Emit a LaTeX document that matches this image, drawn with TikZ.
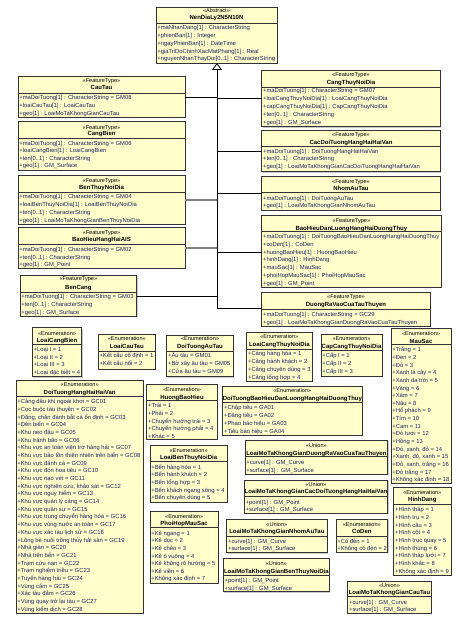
\documentclass[tikz,border=0pt]{standalone}
\usepackage{fontspec}
\setmainfont{Liberation Sans}
\usetikzlibrary{arrows.meta,shadows}
\definecolor{boxfill}{HTML}{FFFFCC}
\definecolor{boxline}{HTML}{333333}
\definecolor{attrc}{HTML}{1E1E5A}
\tikzset{
 umlbox/.style={draw=boxline, line width=0.9pt, fill=boxfill, inner sep=0pt, outer sep=0pt,
   drop shadow={shadow xshift=0.9pt, shadow yshift=-0.9pt, fill=black!40}},
 divline/.style={draw=boxline, line width=0.8pt},
 stereo/.style={inner sep=0pt, font=\fontsize{5.6}{6}\selectfont, anchor=mid},
 uname/.style={inner sep=0pt, font=\fontsize{6.0}{7}\selectfont\bfseries, anchor=mid},
 attr/.style={inner sep=0pt, font=\fontsize{5.85}{7}\selectfont, text=attrc, anchor=mid west, xshift=1.2pt},
 conn/.style={draw=black, line width=0.8pt},
 conng/.style={draw=black!50, line width=1.1pt},
}
\newcommand\ubox[6]{%
 \node[umlbox, anchor=north west, minimum width={(#4)-(#2)}, minimum height={(#5)-(#3)}] (#1) at (#2,#3) {};
 \draw[divline] (#1.west |- 0,#6) -- (#1.east |- 0,#6);}
\newcommand\uhead[5]{%
 \node[stereo] (#1-s) at (#1.north |- 0,#2) {«#3»};
 \node[uname] (#1-n) at (#1.north |- 0,#4) {#5};}
\newcommand\uattrs[4]{%
 \foreach \itm [count=\i from 0] in {#4} {\node[attr] (#1-a\i) at (#1.west |- 0,{#2+\i*#3}) {\itm};}}
\begin{document}
\begin{tikzpicture}[x=1pt,y=-1pt]
\fill[white] (0,0) rectangle (457,620);
\useasboundingbox (0,0) rectangle (457,620);
% ---------- abstract
\ubox{abs}{156}{7}{277}{63}{23.3}
\uhead{abs}{10.3}{Abstract}{17.3}{NenDiaLy2N5N10N}
\uattrs{abs}{26.7}{7.9}{+maNhanDang[1] : CharacterString,+phienBan[1] : Integer,+ngayPhienBan[1] : DateTime,+giaTriDoChinhXacMatPhang[1] : Real,+nguyenNhanThayDoi[0..1] : CharacterString}
% ---------- left feature types
\ubox{cautau}{18}{76}{185}{117.3}{93.5}
\uhead{cautau}{80}{FeatureType}{87.3}{CauTau}
\uattrs{cautau}{96.9}{7.8}{+maDoiTuong[1] : CharacterString = GM08,+loaiCauTau[1] : LoaiCauTau,+geo[1] : LoaiMoTaKhongGianCauTau}
\ubox{cangbien}{18}{121.7}{185}{170}{138.3}
\uhead{cangbien}{126.7}{FeatureType}{133.3}{CangBien}
\uattrs{cangbien}{142.7}{7.5}{+maDoiTuong[1] : CharacterString = GM06,+loaiCangBien[1] : LoaiCangBien,+ten[0..1] : CharacterString,+geo[1] : GM\_Surface}
\ubox{benthuy}{18}{175}{185}{224}{192.3}
\uhead{benthuy}{180}{FeatureType}{187.3}{BenThuyNoiDia}
\uattrs{benthuy}{196}{7.9}{+maDoiTuong[1] : CharacterString = GM04,+loaiBenThuyNoiDia[1] : LoaiBenThuyNoiDia,+ten[0..1] : CharacterString,+geo[1] : LoaiMoTaKhongGianBenThuyNoiDia}
\ubox{ais}{18}{227.3}{185}{268.3}{244.3}
\uhead{ais}{231.7}{FeatureType}{239}{BaoHieuHangHaiAIS}
\uattrs{ais}{249}{7.4}{+maDoiTuong[1] : CharacterString = GM02,+ten[0..1] : CharacterString,+geo[1] : GM\_Point}
\ubox{bencang}{20}{275}{136.7}{316}{292.7}
\uhead{bencang}{278.3}{FeatureType}{286.7}{BenCang}
\uattrs{bencang}{296}{7.9}{+maDoiTuong[1] : CharacterString = GM03,+ten[0..1] : CharacterString,+geo[1] : GM\_Surface}
% ---------- right feature types
\ubox{cangtnd}{261.7}{70}{440.3}{126.7}{87.3}
\uhead{cangtnd}{74}{FeatureType}{81.7}{CangThuyNoiDia}
\uattrs{cangtnd}{90}{7.9}{+maDoiTuong[1] : CharacterString = GM07,+loaiCangThuyNoiDia[1] : LoaiCangThuyNoiDia,+capCangThuyNoiDia[1] : CapCangThuyNoiDia,+ten[0..1] : CharacterString,+geo[1] : GM\_Surface}
\ubox{cacdt}{261.7}{130}{440.3}{171.7}{146.7}
\uhead{cacdt}{134}{FeatureType}{141.7}{CacDoiTuongHangHaiHaiVan}
\uattrs{cacdt}{150.7}{7.4}{+maDoiTuong[1] : DoiTuongHangHaiHaiVan,+ten[0..1] : CharacterString,+geo[1] : LoaiMoTaKhongGianCacDoiTuongHangHaiHaiVan}
\ubox{nhom}{261.7}{176.7}{440.3}{210}{192.7}
\uhead{nhom}{181}{FeatureType}{188.3}{NhomAuTau}
\uattrs{nhom}{197.7}{7.5}{+maDoiTuong[1] : DoiTuongAuTau,+geo[1] : LoaiMoTaKhongGianNhomAuTau}
\ubox{bhdl}{261.7}{215.7}{441}{287.3}{231.7}
\uhead{bhdl}{220}{FeatureType}{227.7}{BaoHieuDanLuongHangHaiDuongThuy}
\uattrs{bhdl}{236}{7.78}{+maDoiTuong[1] : DoiTuongBaoHieuDanLuongHangHaiDuongThuy,+coDen[1] : CoDen,+huongBaoHieu[1] : HuongBaoHieu,+hinhDang[1] : HinhDang,+mauSac[1] : MauSac,+phoiHopMauSac[1] : PhoiHopMauSac,+geo[1] : GM\_Point}
\ubox{drv}{261.7}{292.7}{430.3}{326}{309}
\uhead{drv}{296}{FeatureType}{304}{DuongRaVaoCuaTauThuyen}
\uattrs{drv}{314}{8}{+maDoiTuong[1] : CharacterString = GC29,+geo[1] : LoaiMoTaKhongGianDuongRaVaoCuaTauThuyen}
% ---------- generalization
\coordinate (trk) at (217,308);
\draw[conn, -{Triangle[open, length=7pt, width=10pt, fill=white]}] (trk) -- (abs.south -| trk);
\draw[conn] (cautau.east |- 0,97) -- (trk |- 0,97);
\draw[conng] (benthuy.east |- 0,200) -- (trk |- 0,200);
\draw[conng] (ais.east |- 0,248) -- (trk |- 0,248);
\draw[conn] (bencang.east |- 0,296) -- (trk |- 0,296);
\draw[conn] (trk |- 0,98.3) -- (cangtnd.west |- 0,98.3);
\draw[conn] (trk |- 0,151) -- (cacdt.west |- 0,151);
\draw[conn] (trk |- 0,193) -- (nhom.west |- 0,193);
\draw[conn] (trk |- 0,252) -- (bhdl.west |- 0,252);
\draw[conn] (trk) -- (drv.west |- trk);
% ---------- enumerations
\ubox{lcb}{32.3}{327.7}{81.7}{376.7}{344.3}
\uhead{lcb}{332.7}{Enumeration}{340}{LoaiCangBien}
\uattrs{lcb}{349.3}{7.5}{+Loại I = 1,+Loại II = 2,+Loại III = 3,+Loại đặc biệt = 4}
\ubox{lct}{98.3}{334}{155.3}{369}{351}
\uhead{lct}{338.3}{Enumeration}{346}{LoaiCauTau}
\uattrs{lct}{355}{7.7}{+Kết cấu cố định = 1,+Kết cấu nổi = 2}
\ubox{dthh}{16}{380}{143.3}{613.3}{396.7}
\uhead{dthh}{384.3}{Enumeration}{392}{DoiTuongHangHaiHaiVan}
\uattrs{dthh}{401}{7.69}{+Cảng dầu khí ngoài khơi = GC01,+Cọc buộc tàu thuyền = GC02,{+Đăng, chắn đánh bắt cá ổn định = GC03},+Đèn biển = GC04,+Khu neo đậu = GC05,+Khu tránh bão = GC06,+Khu vực an toàn viện trợ hàng hải = GC07,+Khu vực bảo tồn thiên nhiên trên biển = GC08,+Khu vực đánh cá = GC09,+Khu vực đón hoa tiêu = GC10,+Khu vực nạo vét = GC11,{+Khu vực nghiên cứu, khảo sát = GC12},+Khu vực nguy hiểm = GC13,+Khu vực quản lý cảng = GC14,+Khu vực quân sự = GC15,+Khu vực trung chuyển hàng hóa = GC16,+Khu vực vùng nước an toàn = GC17,+Khu vực xác tàu lịch sử = GC18,+Lồng bè nuôi trồng thủy hải sản = GC19,+Nhà giàn = GC20,+Nhà trên bến = GC21,+Trạm cứu nạn = GC22,+Trạm nghiệm triều = GC23,+Tuyến hàng hải = GC24,+Vùng cấm  = GC25,+Xác tàu đắm = GC26,+Vùng quay trở lại tàu = GC27,+Vùng kiểm dịch = GC28}
\ubox{dtat}{166.7}{335}{233.3}{376.7}{351}
\uhead{dtat}{338.3}{Enumeration}{346}{DoiTuongAuTau}
\uattrs{dtat}{355}{8}{+Âu tàu = GM01,+Bờ xây âu tàu = GM05,+Cửa âu tàu = GM09}
\ubox{lctnd}{246.7}{332.7}{312}{381}{349}
\uhead{lctnd}{336}{Enumeration}{344}{LoaiCangThuyNoiDia}
\uattrs{lctnd}{353.3}{7.8}{+Cảng hàng hóa = 1,+Cảng hành khách = 2,+Cảng chuyên dùng = 3,+Cảng tổng hợp = 4}
\ubox{cctnd}{321}{334.3}{382}{376}{350.7}
\uhead{cctnd}{338.3}{Enumeration}{346}{CapCangThuyNoiDia}
\uattrs{cctnd}{355}{8}{+Cấp I = 1,+Cấp II = 2,+Cấp III = 3}
\ubox{mausac}{391}{328.3}{451}{483.3}{344.3}
\uhead{mausac}{332.7}{Enumeration}{340.7}{MauSac}
\uattrs{mausac}{349.3}{7.63}{+Trắng = 1,+Đen = 2,+Đỏ = 3,+Xanh lá cây = 4,+Xanh da trời = 5,+Vàng = 6,+Xám = 7,+Nâu = 8,+Hổ phách = 9,+Tím = 10,+Cam = 11,+Đỏ tươi = 12,+Hồng = 13,{+Đỏ, xanh, đỏ = 14},{+Xanh, đỏ, xanh = 15},{+Đỏ, xanh, trắng = 16},+Đỏ trắng = 17,+Không xác định = 18}
\ubox{hinhdang}{393.7}{487.7}{451}{575}{504.3}
\uhead{hinhdang}{491.7}{Enumeration}{499}{HinhDang}
\uattrs{hinhdang}{509}{7.71}{+Hình tháp = 1,+Hình trụ = 2,+Hình cầu = 3,+Hình cột = 4,+Hình trục quay = 5,+Hình thùng = 6,+Hình tháp lưới = 7,+Hình khác = 8,+Không xác định = 9}
\ubox{coden}{336}{519.3}{387.7}{552.3}{536}
\uhead{coden}{524}{Enumeration}{531.3}{CoDen}
\uattrs{coden}{541}{7.3}{+Có đèn = 1,+Không có đèn = 2}
\ubox{hbh}{146.7}{384}{217.3}{439.3}{400.7}
\uhead{hbh}{389.3}{Enumeration}{396.7}{HuongBaoHieu}
\uattrs{hbh}{405}{7.75}{+Trái = 1,+Phải = 2,+Chuyển hướng trái = 3,+Chuyển hướng phải = 4,+Khác = 5}
\ubox{dtbh}{222.7}{386}{362}{435}{402.7}
\uhead{dtbh}{390}{Enumeration}{397.7}{DoiTuongBaoHieuDanLuongHangHaiDuongThuy}
\uattrs{dtbh}{407.3}{7.8}{+Chập tiêu = GA01,+Đăng tiêu = GA02,+Phao báo hiệu = GA03,+Tiêu báo hiệu = GA04}
\ubox{lbtnd}{150}{445}{227.3}{502}{461.5}
\uhead{lbtnd}{450}{Enumeration}{456.7}{LoaiBenThuyNoiDia}
\uattrs{lbtnd}{466.7}{7.65}{+Bến hàng hóa = 1,+Bến hành khách = 2,+Bến tổng hợp = 3,+Bến khách ngang sông = 4,+Bến chuyên dùng = 5}
\ubox{phms}{150}{511.7}{218.3}{583.3}{527.7}
\uhead{phms}{516}{Enumeration}{523.3}{PhoiHopMauSac}
\uattrs{phms}{532.7}{7.6}{+Kẻ ngang = 1,+Kẻ dọc = 2,+Kẻ chéo = 3,+Kẻ ô vuông = 4,+Kẻ không rõ hướng = 5,+Kẻ viền = 6,+Không xác định = 7}
% ---------- unions
\ubox{udrv}{245}{440}{387.7}{474}{456.5}
\uhead{udrv}{445}{Union}{452.7}{LoaiMoTaKhongGianDuongRaVaoCuaTauThuyen}
\uattrs{udrv}{461.7}{8.1}{+curve[1] : GM\_Curve,+surface[1] : GM\_Surface}
\ubox{ucdt}{244.3}{480}{387.7}{513.3}{496.7}
\uhead{ucdt}{484}{Union}{491}{LoaiMoTaKhongGianCacDoiTuongHangHaiHaiVan}
\uattrs{ucdt}{501.7}{6.8}{+point[1] : GM\_Point,+surface[1] : GM\_Surface}
\ubox{unat}{226.7}{519}{327}{552.7}{536}
\uhead{unat}{524}{Union}{531}{LoaiMoTaKhongGianNhomAuTau}
\uattrs{unat}{541}{7.3}{+curve[1] : GM\_Curve,+surface[1] : GM\_Surface}
\ubox{ubtnd}{223.3}{558.3}{329.3}{591.7}{575.7}
\uhead{ubtnd}{562.7}{Union}{570.7}{LoaiMoTaKhongGianBenThuyNoiDia}
\uattrs{ubtnd}{580}{7.7}{+point[1] : GM\_Point,+surface[1] : GM\_Surface}
\ubox{uct}{347.7}{581}{431.3}{613.3}{596.7}
\uhead{uct}{585}{Union}{591.7}{LoaiMoTaKhongGianCauTau}
\uattrs{uct}{601.7}{7.6}{+curve[1] : GM\_Curve,+surface[1] : GM\_Surface}
\end{tikzpicture}
\end{document}
